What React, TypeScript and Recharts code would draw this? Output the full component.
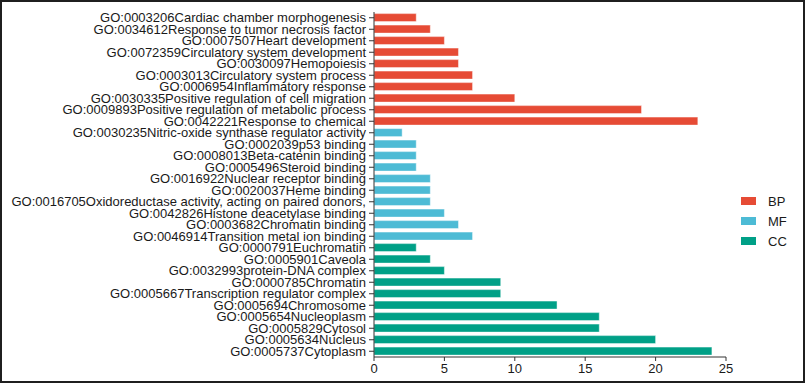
import React from "react";
import { BarChart, Bar, XAxis, YAxis, Cell } from "recharts";

const bpLabels = [
  "GO:0003206Cardiac chamber morphogenesis",
  "GO:0034612Response to tumor necrosis factor",
  "GO:0007507Heart development",
  "GO:0072359Circulatory system development",
  "GO:0030097Hemopoiesis",
  "GO:0003013Circulatory system process",
  "GO:0006954Inflammatory response",
  "GO:0030335Positive regulation of cell migration",
  "GO:0009893Positive regulation of metabolic process",
  "GO:0042221Response to chemical",
];
const bpValues = [3, 4, 5, 6, 6, 7, 7, 10, 19, 23];

const mfLabels = [
  "GO:0030235Nitric-oxide synthase regulator activity",
  "GO:0002039p53 binding",
  "GO:0008013Beta-catenin binding",
  "GO:0005496Steroid binding",
  "GO:0016922Nuclear receptor binding",
  "GO:0020037Heme binding",
  "GO:0016705Oxidoreductase activity, acting on paired donors,",
  "GO:0042826Histone deacetylase binding",
  "GO:0003682Chromatin binding",
  "GO:0046914Transition metal ion binding",
];
const mfValues = [2, 3, 3, 3, 4, 4, 4, 5, 6, 7];

const ccLabels = [
  "GO:0000791Euchromatin",
  "GO:0005901Caveola",
  "GO:0032993protein-DNA complex",
  "GO:0000785Chromatin",
  "GO:0005667Transcription regulator complex",
  "GO:0005694Chromosome",
  "GO:0005654Nucleoplasm",
  "GO:0005829Cytosol",
  "GO:0005634Nucleus",
  "GO:0005737Cytoplasm",
];
const ccValues = [3, 4, 5, 9, 9, 13, 16, 16, 20, 24];

const groups = ["BP", "MF", "CC"];
const groupColors: Record<string, string> = { BP: "#E64B35", MF: "#4DBBD5", CC: "#00A087" };
const xTicks = [0, 5, 10, 15, 20, 25];

const data = [
  ...bpLabels.map((name, i) => ({ name, value: bpValues[i], group: "BP" })),
  ...mfLabels.map((name, i) => ({ name, value: mfValues[i], group: "MF" })),
  ...ccLabels.map((name, i) => ({ name, value: ccValues[i], group: "CC" })),
];

const FONT = "'Liberation Sans', Arial, Helvetica, sans-serif";

const YTick = (props: any) => {
  const { x, y, payload } = props;
  return (
    <text
      x={x}
      y={y}
      dy={4.5}
      textAnchor="end"
      fill="#1a1a1a"
      fontSize={13}
      fontFamily={FONT}
    >
      {payload.value}
    </text>
  );
};

export default function App() {
  return (
    <div style={{ position: "absolute", left: 0, top: 0, width: 805, height: 383, background: "#fff" }}>
      <BarChart
        width={805}
        height={383}
        data={data}
        layout="vertical"
        margin={{ top: 12, right: 79, bottom: 0, left: 0 }}
        barCategoryGap="14%"
      >
        <XAxis
          type="number"
          domain={[0, 25]}
          ticks={xTicks}
          height={26}
          tickSize={4}
          tickMargin={3}
          axisLine={{ stroke: "#333" }}
          tickLine={{ stroke: "#333" }}
          tick={{ fill: "#1a1a1a", fontSize: 13, fontFamily: FONT }}
        />
        <YAxis
          type="category"
          dataKey="name"
          width={374}
          interval={0}
          tickSize={5}
          tickMargin={3}
          axisLine={{ stroke: "#333" }}
          tickLine={{ stroke: "#333" }}
          tick={<YTick />}
        />
        <Bar dataKey="value" isAnimationActive={false} stroke="rgba(255,255,255,0.45)" strokeWidth={1}>
          {data.map((d, i) => (
            <Cell key={i} fill={groupColors[d.group]} />
          ))}
        </Bar>
      </BarChart>
      <div
        style={{
          position: "absolute",
          left: 741,
          top: 191,
          fontFamily: FONT,
          fontSize: 13,
          color: "#1a1a1a",
        }}
      >
        {groups.map((g) => (
          <div key={g} style={{ display: "flex", alignItems: "center", height: 20 }}>
            <div style={{ width: 15, height: 8, background: groupColors[g], marginRight: 12 }} />
            <span>{g}</span>
          </div>
        ))}
      </div>
      <div
        style={{
          position: "absolute",
          left: 0,
          top: 0,
          width: 805,
          height: 383,
          border: "2px solid #1f1f1f",
          boxSizing: "border-box",
          pointerEvents: "none",
        }}
      />
    </div>
  );
}
